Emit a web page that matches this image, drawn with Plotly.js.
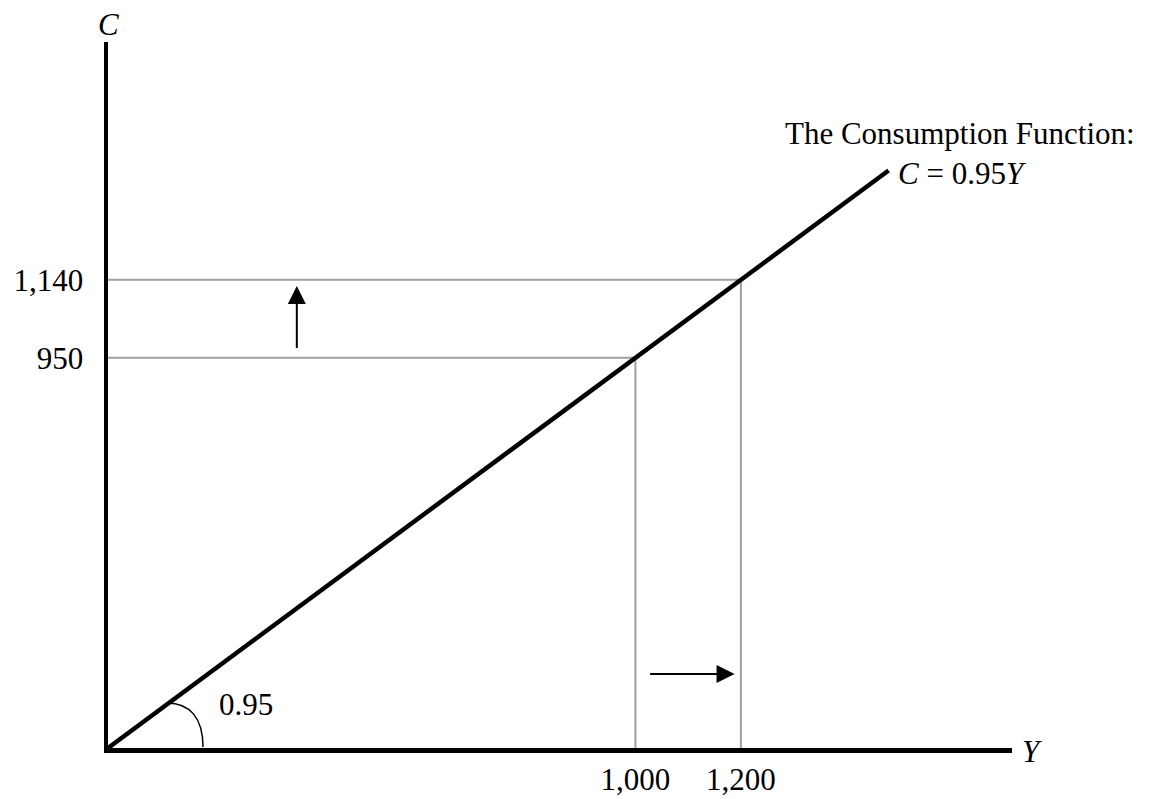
<!DOCTYPE html>
<html>
<head>
<meta charset="utf-8">
<script src="https://cdn.plot.ly/plotly-3.0.1.min.js"></script>
<style>html,body{margin:0;padding:0;background:#fff;}#chart{width:1150px;height:799px;}</style>
</head>
<body>
<div id="chart"></div>
<script>
// Data
var incomeTicks = [1000, 1200];
var incomeTickLabels = ["1,000", "1,200"];
var consumptionTicks = [950, 1140];
var consumptionTickLabels = ["950", "1,140"];
var mpc = 0.95;
var lineIncome = [0, 1480];
var lineConsumption = [0, 1406];
var xMax = 1714, yMax = 1719;

var FONT = "Liberation Serif, Times New Roman, serif";
var gray = "#a0a0a0";

var traces = [];
// guide lines
for (var i = 0; i < incomeTicks.length; i++) {
  traces.push({
    x: [0, incomeTicks[i], incomeTicks[i]],
    y: [consumptionTicks[i], consumptionTicks[i], 0],
    mode: "lines", line: {color: gray, width: 2}, hoverinfo: "skip", showlegend: false, cliponaxis: false
  });
}
// consumption function
traces.push({
  x: lineIncome, y: lineConsumption, mode: "lines",
  line: {color: "#000", width: 4.5}, showlegend: false, cliponaxis: false
});

var L = 108, R = 1012, T = 42, B = 748;
function px(p) { return (p - L) / (R - L); }
function py(p) { return (B - p) / (B - T); }
function txt(t, x, y, xa) {
  return {text: t, x: px(x), y: py(y), xref: "paper", yref: "paper", xanchor: xa || "center", yanchor: "middle",
          showarrow: false, font: {family: FONT, size: 31, color: "#000"}};
}

var annotations = [
  txt("<i>C</i>", 108, 24),
  txt("<i>Y</i>", 1032, 751),
  txt("The Consumption Function:", 960, 134),
  txt("<i>C</i> = " + mpc.toFixed(2) + "<i>Y</i>", 896, 173, "left"),
  txt(mpc.toFixed(2), 246, 704),
  // up arrow
  {x: 358, y: 1125, ax: 358, ay: 970, xref: "x", yref: "y", axref: "x", ayref: "y", text: "", showarrow: true,
   arrowhead: 2, arrowsize: 1.8, arrowwidth: 2, arrowcolor: "#000"},
  // right arrow
  {x: 1188, y: 180, ax: 1025, ay: 180, xref: "x", yref: "y", axref: "x", ayref: "y", text: "", showarrow: true,
   arrowhead: 2, arrowsize: 1.8, arrowwidth: 2, arrowcolor: "#000"}
];

// angle arc (pixel -> data)
function dx(p) { return (p - L) / (R - L) * xMax; }
function dy(p) { return (B - p) / (B - T) * yMax; }
var arcPath = "M " + dx(167) + "," + dy(703) + " C " + dx(190) + "," + dy(703) + " " + dx(203) + "," + dy(718) + " " + dx(203) + "," + dy(747);

var layout = {
  width: 1150, height: 799,
  margin: {l: L, r: 1150 - R, t: T, b: 799 - B, pad: 0},
  paper_bgcolor: "#fff", plot_bgcolor: "#fff",
  showlegend: false,
  xaxis: {range: [0, xMax], showgrid: false, zeroline: false, showline: true, linewidth: 4.5, linecolor: "#000",
          tickvals: incomeTicks, ticktext: incomeTickLabels, ticks: "", 
          tickfont: {family: FONT, size: 31, color: "#000"}, fixedrange: true},
  yaxis: {range: [0, yMax], showgrid: false, zeroline: false, showline: true, linewidth: 4.5, linecolor: "#000",
          tickvals: consumptionTicks, ticktext: consumptionTickLabels, ticks: "outside", ticklen: 14, tickcolor: "rgba(0,0,0,0)",
          tickfont: {family: FONT, size: 31, color: "#000"}, fixedrange: true},
  shapes: [{type: "path", path: arcPath, xref: "x", yref: "y", line: {color: "#000", width: 1.5}}],
  annotations: annotations
};

Plotly.newPlot("chart", traces, layout, {displayModeBar: false, staticPlot: true});
</script>
</body>
</html>
